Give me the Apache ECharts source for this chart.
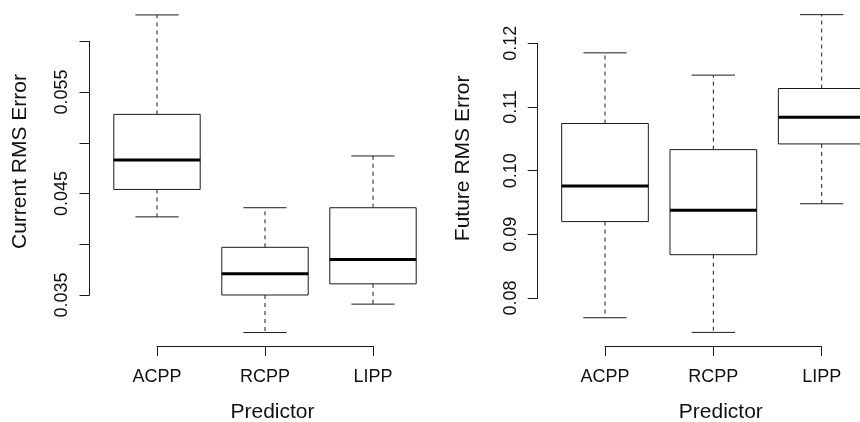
<!DOCTYPE html>
<html lang="en">
<head>
	<meta charset="UTF-8">
	<title>RMS Error by Predictor</title>
	<script src="https://cdn.jsdelivr.net/npm/echarts@6/dist/echarts.min.js"></script>
	<style>
		html, body { margin: 0; padding: 0; background: #fff; }
	</style>
</head>
<body>

	<div id="chart" style="width: 860px;height: 422px;"></div>

	<script type="text/javascript">
	var categories = ['ACPP', 'RCPP', 'LIPP'];

	// current RMS error: whisker low, Q1, median, Q3, whisker high
	var currentLow = [0.0427, 0.0313, 0.0341];
	var currentQ1 = [0.0454, 0.0350, 0.0361];
	var currentMedian = [0.0483, 0.0371, 0.0385];
	var currentQ3 = [0.0528, 0.0397, 0.0436];
	var currentHigh = [0.0626, 0.0436, 0.0487];

	// future RMS error
	var futureLow = [0.0769, 0.0746, 0.0948];
	var futureQ1 = [0.0920, 0.0868, 0.1042];
	var futureMedian = [0.0976, 0.0938, 0.1084];
	var futureQ3 = [0.1074, 0.1033, 0.1129];
	var futureHigh = [0.1185, 0.1150, 0.1245];

	var ink = '#1a1a1a';
	var font = '"Liberation Sans", Arial, Helvetica, sans-serif';

	function rows(low, q1, med, q3, high) {
		var out = [];
		for (var i = 0; i < categories.length; i++) {
			out.push([i, low[i], q1[i], med[i], q3[i], high[i]]);
		}
		return out;
	}

	function renderBox(params, api) {
		var i = api.value(0);
		var lo = api.coord([i, api.value(1)]);
		var q1 = api.coord([i, api.value(2)]);
		var md = api.coord([i, api.value(3)]);
		var q3 = api.coord([i, api.value(4)]);
		var hi = api.coord([i, api.value(5)]);
		var band = api.size([1, 0])[0];
		var half = band * 0.4;
		var cap = band * 0.2;
		var x = md[0];
		var dash = {stroke: ink, lineWidth: 1, lineDash: [4, 4]};
		var solid = {stroke: ink, lineWidth: 1};
		return {
			type: 'group',
			children: [
				{type: 'line', shape: {x1: x, y1: q3[1], x2: x, y2: hi[1]}, style: dash},
				{type: 'line', shape: {x1: x, y1: q1[1], x2: x, y2: lo[1]}, style: dash},
				{type: 'line', shape: {x1: x - cap, y1: hi[1], x2: x + cap, y2: hi[1]}, style: solid},
				{type: 'line', shape: {x1: x - cap, y1: lo[1], x2: x + cap, y2: lo[1]}, style: solid},
				{type: 'rect', shape: {x: x - half, y: q3[1], width: half * 2, height: q1[1] - q3[1]},
					style: {fill: '#fff', stroke: ink, lineWidth: 1}},
				{type: 'line', shape: {x1: x - half, y1: md[1], x2: x + half, y2: md[1]},
					style: {stroke: '#000', lineWidth: 3}}
			]
		};
	}

	function xAxisFor(gridIndex, offset) {
		return {
			type: 'category',
			gridIndex: gridIndex,
			data: categories,
			boundaryGap: false,
			offset: offset,
			axisLine: {lineStyle: {color: ink, width: 1}},
			axisTick: {show: true, length: 10, lineStyle: {color: ink}},
			axisLabel: {interval: 0, margin: 22, color: '#111', fontSize: 18, fontFamily: font},
			splitLine: {show: false}
		};
	}

	function yAxisFor(gridIndex, min, max, interval, offset, fmt) {
		return {
			type: 'value',
			gridIndex: gridIndex,
			min: min,
			max: max,
			interval: interval,
			offset: offset,
			axisLine: {show: true, lineStyle: {color: ink, width: 1}},
			axisTick: {show: true, length: 10, lineStyle: {color: ink}},
			axisLabel: {rotate: 90, margin: 18, color: '#111', fontSize: 18, fontFamily: font, formatter: fmt},
			splitLine: {show: false}
		};
	}

	var chart = echarts.init(document.getElementById('chart'));

	var option = {
		backgroundColor: '#fff',
		animation: false,
		grid: [
			{left: 157, top: 41.3, width: 216, height: 253.7},
			{left: 605, top: 43.3, width: 216.7, height: 254.7}
		],
		xAxis: [xAxisFor(0, 51), xAxisFor(1, 48)],
		yAxis: [
			yAxisFor(0, 0.035, 0.060, 0.005, 67.5, function (v) {
				return Math.round(v * 1000) % 10 === 5 ? v.toFixed(3) : '';
			}),
			yAxisFor(1, 0.08, 0.12, 0.01, 67.3, function (v) {
				return v.toFixed(2);
			})
		],
		graphic: [
			{type: 'text', x: 20.5, y: 161.5, rotation: Math.PI / 2,
				style: {text: 'Current RMS Error', fill: '#111', font: '21px ' + font, align: 'center', verticalAlign: 'middle'}},
			{type: 'text', x: 463, y: 158.3, rotation: Math.PI / 2,
				style: {text: 'Future RMS Error', fill: '#111', font: '21px ' + font, align: 'center', verticalAlign: 'middle'}},
			{type: 'text', x: 272.5, y: 412.5,
				style: {text: 'Predictor', fill: '#111', font: '21px ' + font, align: 'center', verticalAlign: 'middle'}},
			{type: 'text', x: 720.8, y: 412.5,
				style: {text: 'Predictor', fill: '#111', font: '21px ' + font, align: 'center', verticalAlign: 'middle'}}
		],
		series: [
			{
				type: 'custom',
				xAxisIndex: 0,
				yAxisIndex: 0,
				renderItem: renderBox,
				encode: {x: 0, y: [1, 2, 3, 4, 5]},
				data: rows(currentLow, currentQ1, currentMedian, currentQ3, currentHigh)
			},
			{
				type: 'custom',
				xAxisIndex: 1,
				yAxisIndex: 1,
				renderItem: renderBox,
				encode: {x: 0, y: [1, 2, 3, 4, 5]},
				data: rows(futureLow, futureQ1, futureMedian, futureQ3, futureHigh)
			}
		]
	};
	chart.setOption(option);
	</script>

</body>
</html>
